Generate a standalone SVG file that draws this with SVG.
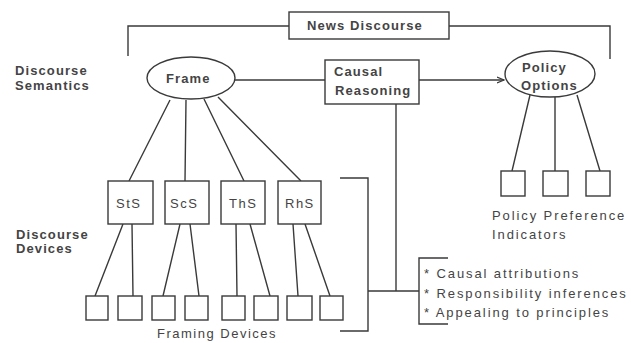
<svg xmlns="http://www.w3.org/2000/svg" width="631" height="343" viewBox="0 0 631 343">
<style>
.ln{fill:none;stroke:#3a3a3a;stroke-width:1.4}
.bx{fill:#fff;stroke:#3a3a3a;stroke-width:1.4}
.t{font-family:"Liberation Sans",Arial,sans-serif;font-size:13px;fill:#444;letter-spacing:1.5px}
.b{font-weight:bold;letter-spacing:1.1px}
.w{letter-spacing:1.9px}
</style>
<defs>
<marker id="ah" markerWidth="8" markerHeight="8" refX="7" refY="4" orient="auto" markerUnits="userSpaceOnUse">
<path d="M0,1 L7,4 L0,7" fill="none" stroke="#3a3a3a" stroke-width="1.2"/>
</marker>
</defs>
<rect width="631" height="343" fill="#fff"/>
<g id="labels">
<text class="t b" x="15" y="75">Discourse</text>
<text class="t b" x="15" y="90">Semantics</text>
<text class="t b" x="16" y="239">Discourse</text>
<text class="t b" x="16" y="253">Devices</text>
</g>
<g id="connectors">
<path class="ln" d="M128,56 V26 H289 M449,26 H610 V59"/>
<path class="ln" d="M235,80 H325"/>
<path class="ln" d="M419,80 H504" marker-end="url(#ah)"/>
<path class="ln" d="M170,100 L129,181 M186,100 L185,181 M204,99 L244,181 M218,97 L301,181"/>
<path class="ln" d="M123,224 L95,296 M132,224 L133,296 M180,224 L163,296 M190,224 L199,296 M236,224 L237,296 M250,224 L270,296 M293,224 L298,296 M305,224 L330,296"/>
<path class="ln" d="M530,95 L512,171 M555,97 L555,171 M577,95 L600,171"/>
<path class="ln" d="M340,178 H368 V331 H340 M368,291 H419 M396,104 V291"/>
<path class="ln" d="M448,258 H419 V324 H448"/>
</g>
<g id="news-discourse">
<rect class="bx" x="289" y="12" width="160" height="27"/>
<text class="t b" x="307" y="30">News Discourse</text>
</g>
<g id="frame">
<ellipse class="bx" cx="191" cy="78" rx="44" ry="21"/>
<text class="t b" x="166" y="83">Frame</text>
</g>
<g id="causal-reasoning">
<rect class="bx" x="325" y="60" width="94" height="44"/>
<text class="t b" x="334" y="76">Causal</text>
<text class="t b" x="335" y="95">Reasoning</text>
</g>
<g id="policy-options">
<ellipse class="bx" cx="550" cy="74" rx="45" ry="23"/>
<text class="t b" x="522" y="72">Policy</text>
<text class="t b" x="521" y="90">Options</text>
</g>
<g id="sts"><rect class="bx" x="108" y="181" width="45" height="43"/><text class="t" x="116" y="208">StS</text></g>
<g id="scs"><rect class="bx" x="165" y="181" width="44" height="43"/><text class="t" x="170" y="208">ScS</text></g>
<g id="ths"><rect class="bx" x="221" y="181" width="44" height="43"/><text class="t" x="229" y="208">ThS</text></g>
<g id="rhs"><rect class="bx" x="278" y="181" width="43" height="43"/><text class="t" x="285" y="208">RhS</text></g>
<g id="framing-devices">
<rect class="bx" x="86" y="296" width="22" height="24"/>
<rect class="bx" x="118" y="296" width="24" height="24"/>
<rect class="bx" x="152" y="296" width="23" height="24"/>
<rect class="bx" x="185" y="296" width="23" height="24"/>
<rect class="bx" x="222" y="296" width="23" height="24"/>
<rect class="bx" x="254" y="296" width="24" height="24"/>
<rect class="bx" x="287" y="296" width="25" height="24"/>
<rect class="bx" x="320" y="296" width="23" height="24"/>
<text class="t" x="157" y="338">Framing Devices</text>
</g>
<g id="policy-preference-indicators">
<rect class="bx" x="501" y="171" width="24" height="25"/>
<rect class="bx" x="543" y="171" width="25" height="25"/>
<rect class="bx" x="586" y="171" width="24" height="25"/>
<text class="t w" x="492" y="220">Policy Preference</text>
<text class="t w" x="492" y="239">Indicators</text>
</g>
<g id="causal-list">
<text class="t w" x="424" y="278">* Causal attributions</text>
<text class="t w" x="424" y="298">* Responsibility inferences</text>
<text class="t w" x="424" y="317">* Appealing to principles</text>
</g>
</svg>
